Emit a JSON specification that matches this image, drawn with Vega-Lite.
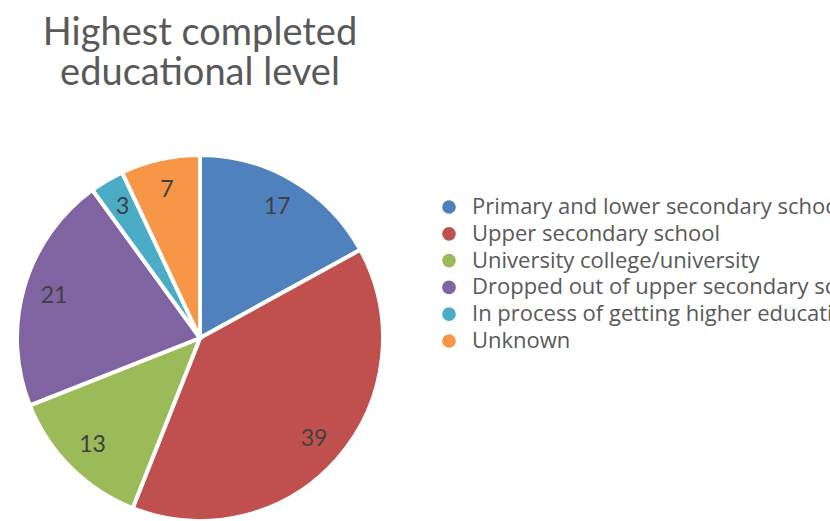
{
  "$schema": "https://vega.github.io/schema/vega-lite/v6.json",
  "autosize": "none",
  "width": 380,
  "height": 476,
  "padding": {"left": 10, "top": 100, "right": 440, "bottom": 0},
  "background": "white",
  "title": {
    "text": ["Highest completed", "educational level"],
    "anchor": "middle",
    "frame": "group",
    "font": "Lato",
    "fontSize": 38,
    "fontWeight": "normal",
    "color": "#595959",
    "lineHeight": 40,
    "offset": 7
  },
  "data": {
    "values": [
      {"category": "Primary and lower secondary school", "value": 17, "idx": 1},
      {"category": "Upper secondary school", "value": 39, "idx": 2},
      {"category": "University college/university", "value": 13, "idx": 3},
      {"category": "Dropped out of upper secondary school", "value": 21, "idx": 4},
      {"category": "In process of getting higher education", "value": 3, "idx": 5},
      {"category": "Unknown", "value": 7, "idx": 6}
    ]
  },
  "encoding": {
    "theta": {"field": "value", "type": "quantitative", "stack": true},
    "order": {"field": "idx", "type": "quantitative"}
  },
  "layer": [
    {
      "mark": {"type": "arc", "outerRadius": 183, "stroke": "white", "strokeWidth": 4},
      "encoding": {
        "color": {
          "field": "category",
          "type": "nominal",
          "sort": {"field": "idx"},
          "scale": {
            "domain": ["Primary and lower secondary school", "Upper secondary school", "University college/university", "Dropped out of upper secondary school", "In process of getting higher education", "Unknown"],
            "range": ["#4F81BD", "#C0504D", "#9BBB59", "#8064A2", "#4BACC6", "#F79646"]
          },
          "legend": {
            "title": null,
            "orient": "none",
            "legendX": 428,
            "legendY": 96,
            "symbolType": "circle",
            "symbolSize": 230,
            "labelFont": "Open Sans",
            "labelFontSize": 22,
            "labelColor": "#595959",
            "labelLimit": 1000,
            "rowPadding": 4.8,
            "labelOffset": 12
          }
        }
      }
    },
    {
      "mark": {"type": "text", "radius": 152, "font": "Lato", "fontSize": 23, "fill": "#404040"},
      "encoding": {"text": {"field": "value", "type": "quantitative"}}
    }
  ],
  "config": {"view": {"stroke": null}}
}
